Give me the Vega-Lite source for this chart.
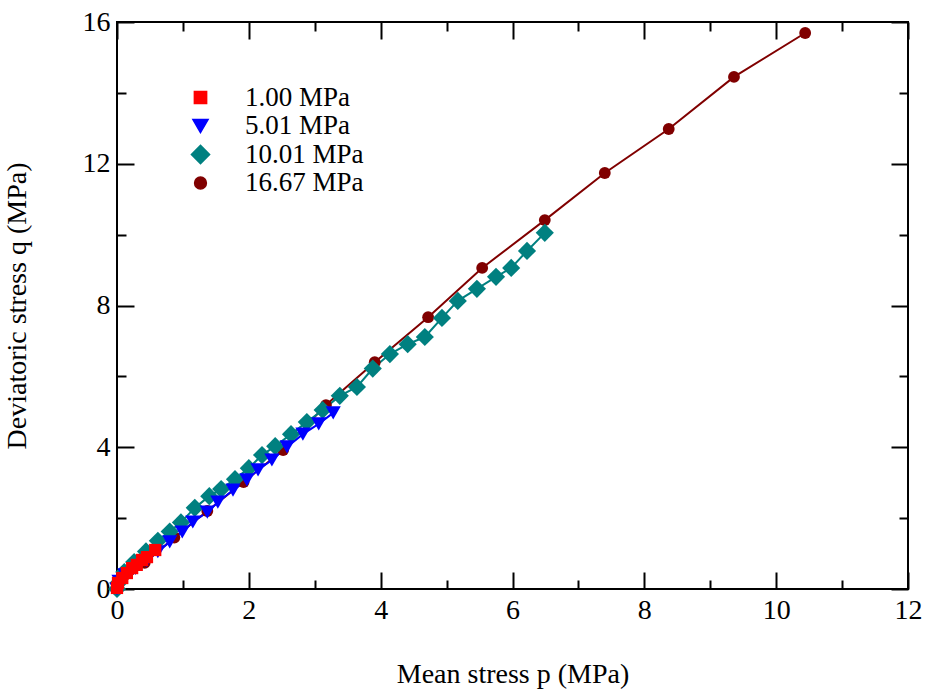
{
  "$schema": "https://vega.github.io/schema/vega-lite/v6.json",
  "width": 791,
  "height": 567,
  "autosize": {"type": "none"},
  "padding": {"left": 117, "top": 22, "right": 20, "bottom": 100},
  "background": "white",
  "config": {
    "font": "Liberation Serif",
    "view": {"stroke": "black", "strokeWidth": 2},
    "axis": {"labelFont": "Liberation Serif", "titleFont": "Liberation Serif", "tickColor": "black", "tickWidth": 2, "labelFontSize": 28, "titleFontSize": 28, "labelColor": "black", "titleColor": "black", "titleFontWeight": "normal", "grid": false, "domain": false, "labelFlush": false, "labelOverlap": false},
    "legend": {"labelFont": "Liberation Serif"}
  },
  "data": {"values": [
    {"series": "16.67 MPa", "p": 0, "q": 0},
    {"series": "16.67 MPa", "p": 0.42, "q": 0.74},
    {"series": "16.67 MPa", "p": 0.87, "q": 1.45},
    {"series": "16.67 MPa", "p": 1.37, "q": 2.2},
    {"series": "16.67 MPa", "p": 1.92, "q": 3.02},
    {"series": "16.67 MPa", "p": 2.52, "q": 3.92},
    {"series": "16.67 MPa", "p": 3.17, "q": 5.19},
    {"series": "16.67 MPa", "p": 3.91, "q": 6.40},
    {"series": "16.67 MPa", "p": 4.72, "q": 7.67},
    {"series": "16.67 MPa", "p": 5.54, "q": 9.06},
    {"series": "16.67 MPa", "p": 6.49, "q": 10.41},
    {"series": "16.67 MPa", "p": 7.40, "q": 11.74},
    {"series": "16.67 MPa", "p": 8.37, "q": 12.98},
    {"series": "16.67 MPa", "p": 9.36, "q": 14.45},
    {"series": "16.67 MPa", "p": 10.44, "q": 15.69},
    {"series": "10.01 MPa", "p": 0, "q": 0},
    {"series": "10.01 MPa", "p": 0.02, "q": 0.17},
    {"series": "10.01 MPa", "p": 0.11, "q": 0.48},
    {"series": "10.01 MPa", "p": 0.26, "q": 0.76},
    {"series": "10.01 MPa", "p": 0.44, "q": 1.06},
    {"series": "10.01 MPa", "p": 0.62, "q": 1.36},
    {"series": "10.01 MPa", "p": 0.80, "q": 1.62},
    {"series": "10.01 MPa", "p": 0.97, "q": 1.88},
    {"series": "10.01 MPa", "p": 1.18, "q": 2.29},
    {"series": "10.01 MPa", "p": 1.40, "q": 2.62},
    {"series": "10.01 MPa", "p": 1.58, "q": 2.82},
    {"series": "10.01 MPa", "p": 1.79, "q": 3.10},
    {"series": "10.01 MPa", "p": 2.00, "q": 3.41},
    {"series": "10.01 MPa", "p": 2.20, "q": 3.78},
    {"series": "10.01 MPa", "p": 2.40, "q": 4.03},
    {"series": "10.01 MPa", "p": 2.64, "q": 4.37},
    {"series": "10.01 MPa", "p": 2.88, "q": 4.71},
    {"series": "10.01 MPa", "p": 3.12, "q": 5.05},
    {"series": "10.01 MPa", "p": 3.38, "q": 5.45},
    {"series": "10.01 MPa", "p": 3.64, "q": 5.70},
    {"series": "10.01 MPa", "p": 3.88, "q": 6.22},
    {"series": "10.01 MPa", "p": 4.14, "q": 6.63},
    {"series": "10.01 MPa", "p": 4.41, "q": 6.91},
    {"series": "10.01 MPa", "p": 4.67, "q": 7.11},
    {"series": "10.01 MPa", "p": 4.93, "q": 7.65},
    {"series": "10.01 MPa", "p": 5.17, "q": 8.13},
    {"series": "10.01 MPa", "p": 5.46, "q": 8.47},
    {"series": "10.01 MPa", "p": 5.75, "q": 8.81},
    {"series": "10.01 MPa", "p": 5.98, "q": 9.06},
    {"series": "10.01 MPa", "p": 6.22, "q": 9.54},
    {"series": "10.01 MPa", "p": 6.49, "q": 10.05},
    {"series": "5.01 MPa", "p": 0, "q": 0},
    {"series": "5.01 MPa", "p": 0.03, "q": 0.22},
    {"series": "5.01 MPa", "p": 0.12, "q": 0.40},
    {"series": "5.01 MPa", "p": 0.28, "q": 0.58},
    {"series": "5.01 MPa", "p": 0.45, "q": 0.80},
    {"series": "5.01 MPa", "p": 0.62, "q": 1.05},
    {"series": "5.01 MPa", "p": 0.80, "q": 1.33},
    {"series": "5.01 MPa", "p": 0.99, "q": 1.61},
    {"series": "5.01 MPa", "p": 1.15, "q": 1.89},
    {"series": "5.01 MPa", "p": 1.37, "q": 2.17},
    {"series": "5.01 MPa", "p": 1.53, "q": 2.45},
    {"series": "5.01 MPa", "p": 1.76, "q": 2.79},
    {"series": "5.01 MPa", "p": 1.97, "q": 3.08},
    {"series": "5.01 MPa", "p": 2.14, "q": 3.36},
    {"series": "5.01 MPa", "p": 2.35, "q": 3.64},
    {"series": "5.01 MPa", "p": 2.58, "q": 4.01},
    {"series": "5.01 MPa", "p": 2.82, "q": 4.37},
    {"series": "5.01 MPa", "p": 3.06, "q": 4.66},
    {"series": "5.01 MPa", "p": 3.28, "q": 4.97},
    {"series": "1.00 MPa", "p": 0, "q": 0.03},
    {"series": "1.00 MPa", "p": 0.015, "q": 0.17},
    {"series": "1.00 MPa", "p": 0.08, "q": 0.31},
    {"series": "1.00 MPa", "p": 0.15, "q": 0.45},
    {"series": "1.00 MPa", "p": 0.23, "q": 0.59},
    {"series": "1.00 MPa", "p": 0.30, "q": 0.68},
    {"series": "1.00 MPa", "p": 0.38, "q": 0.82},
    {"series": "1.00 MPa", "p": 0.455, "q": 0.90},
    {"series": "1.00 MPa", "p": 0.58, "q": 1.10}
  ]},
  "resolve": {"axis": {"x": "independent", "y": "independent"}},
  "layer": [
    {
      "mark": {"type": "line", "strokeWidth": 2},
      "encoding": {
        "x": {"field": "p", "type": "quantitative", "scale": {"domain": [0, 12], "nice": false, "zero": false},
              "axis": {"orient": "bottom", "values": [0, 2, 4, 6, 8, 10, 12], "tickSize": -17, "labelPadding": 24, "labelFont": "Liberation Serif", "title": "Mean stress p (MPa)", "titleY": 93, "titleBaseline": "alphabetic"}},
        "y": {"field": "q", "type": "quantitative", "scale": {"domain": [0, 16], "nice": false, "zero": false},
              "axis": {"orient": "left", "values": [0, 4, 8, 12, 16], "tickSize": -17, "labelPadding": 24, "labelFont": "Liberation Serif", "title": "Deviatoric stress q (MPa)", "titleX": -92, "titleBaseline": "alphabetic", "titleAngle": -90}},
        "color": {"field": "series", "type": "nominal",
                  "scale": {"domain": ["1.00 MPa", "5.01 MPa", "10.01 MPa", "16.67 MPa"], "range": ["#ff0000", "#0000ff", "#008080", "#800000"]},
                  "legend": {"orient": "none", "legendX": 70, "legendY": 62, "title": null, "padding": 0, "labelFontSize": 27, "labelFont": "Liberation Serif", "labelColor": "black", "labelOpacity": 1, "labelOffset": 31, "rowPadding": 0.5}}
      }
    },
    {
      "mark": {"type": "point", "filled": true, "opacity": 1},
      "encoding": {
        "x": {"field": "p", "type": "quantitative", "scale": {"domain": [0, 12], "nice": false, "zero": false},
              "axis": {"orient": "top", "values": [0, 2, 4, 6, 8, 10, 12], "tickSize": -17, "labels": false, "title": null}},
        "y": {"field": "q", "type": "quantitative", "scale": {"domain": [0, 16], "nice": false, "zero": false},
              "axis": {"orient": "right", "values": [0, 4, 8, 12, 16], "tickSize": -17, "labels": false, "title": null}},
        "color": {"field": "series", "type": "nominal",
                  "scale": {"domain": ["1.00 MPa", "5.01 MPa", "10.01 MPa", "16.67 MPa"], "range": ["#ff0000", "#0000ff", "#008080", "#800000"]},
                  "legend": {"orient": "none", "legendX": 70, "legendY": 62, "title": null, "padding": 0, "labelFontSize": 27, "labelFont": "Liberation Serif", "labelColor": "black", "labelOpacity": 1, "labelOffset": 31, "rowPadding": 0.5}},
        "shape": {"field": "series", "type": "nominal",
                  "scale": {"domain": ["1.00 MPa", "5.01 MPa", "10.01 MPa", "16.67 MPa"], "range": ["square", "triangle-down", "diamond", "circle"]},
                  "legend": null},
        "size": {"field": "series", "type": "ordinal",
                 "scale": {"type": "ordinal", "domain": ["1.00 MPa", "5.01 MPa", "10.01 MPa", "16.67 MPa"], "range": [150, 230, 330, 140]},
                 "legend": null}
      }
    },
    {
      "mark": {"type": "point", "opacity": 0},
      "encoding": {
        "x": {"field": "p", "type": "quantitative", "scale": {"domain": [0, 12], "nice": false, "zero": false},
              "axis": {"orient": "bottom", "values": [1, 3, 5, 7, 9, 11], "tickSize": -9, "labels": false, "title": null}},
        "y": {"field": "q", "type": "quantitative", "scale": {"domain": [0, 16], "nice": false, "zero": false},
              "axis": {"orient": "left", "values": [2, 6, 10, 14], "tickSize": -9, "labels": false, "title": null}}
      }
    },
    {
      "mark": {"type": "point", "opacity": 0},
      "encoding": {
        "x": {"field": "p", "type": "quantitative", "scale": {"domain": [0, 12], "nice": false, "zero": false},
              "axis": {"orient": "top", "values": [1, 3, 5, 7, 9, 11], "tickSize": -9, "labels": false, "title": null}},
        "y": {"field": "q", "type": "quantitative", "scale": {"domain": [0, 16], "nice": false, "zero": false},
              "axis": {"orient": "right", "values": [2, 6, 10, 14], "tickSize": -9, "labels": false, "title": null}}
      }
    }
  ]
}
